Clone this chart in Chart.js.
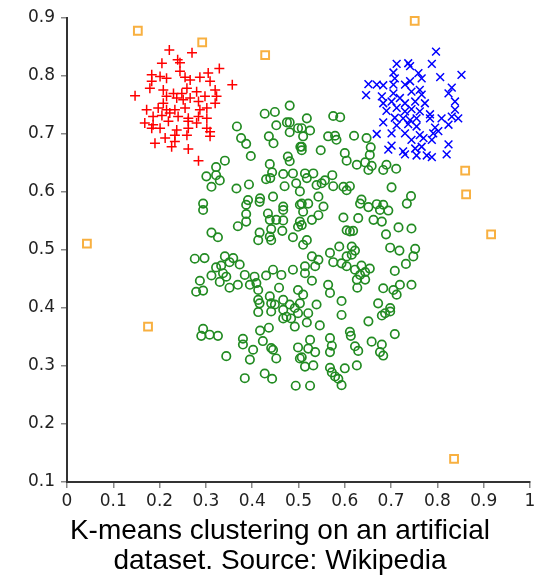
<!DOCTYPE html>
<html>
<head>
<meta charset="utf-8">
<script src="https://cdn.jsdelivr.net/npm/chart.js@4"></script>
<style>
  html, body { margin: 0; padding: 0; background: #fff; }
  #wrap { width: 549px; height: 577px; position: relative; }
  #caption {
    position: absolute; left: 0; top: 515px; width: 549px;
    box-sizing: border-box; padding-left: 11px;
    text-align: center; color: #000;
    font-family: "Liberation Sans", Arial, sans-serif;
    font-size: 28px; line-height: 30px;
  }
</style>
</head>
<body>
<div id="wrap">
  <canvas id="kmeans"></canvas>
  <div id="caption"></div>
</div>
<script>
// cluster 1 (red +)
const redPoints = [
    [0.221,0.845],[0.270,0.840],[0.205,0.822],[0.239,0.828],[0.244,0.823],[0.329,0.813],
    [0.183,0.802],[0.201,0.799],[0.215,0.796],[0.244,0.808],[0.255,0.798],[0.266,0.793],
    [0.287,0.798],[0.305,0.805],[0.309,0.791],[0.357,0.785],[0.183,0.791],[0.179,0.779],
    [0.208,0.776],[0.230,0.770],[0.248,0.770],[0.259,0.779],[0.280,0.773],[0.320,0.776],
    [0.323,0.765],[0.147,0.766],[0.215,0.765],[0.237,0.762],[0.266,0.762],[0.298,0.765],
    [0.208,0.753],[0.251,0.759],[0.284,0.756],[0.320,0.753],[0.172,0.742],[0.197,0.745],
    [0.215,0.742],[0.233,0.742],[0.255,0.745],[0.287,0.742],[0.302,0.745],[0.186,0.730],
    [0.205,0.732],[0.222,0.736],[0.240,0.730],[0.262,0.727],[0.284,0.730],[0.302,0.727],
    [0.168,0.719],[0.186,0.716],[0.219,0.722],[0.262,0.722],[0.280,0.719],[0.302,0.710],
    [0.183,0.710],[0.201,0.710],[0.237,0.707],[0.262,0.710],[0.309,0.704],[0.212,0.693],
    [0.233,0.698],[0.259,0.698],[0.309,0.696],[0.190,0.684],[0.226,0.678],[0.233,0.687],
    [0.262,0.674],[0.284,0.654]
];

// cluster 2 (blue x)
const bluePoints = [
    [0.797,0.842],[0.712,0.821],[0.737,0.822],[0.741,0.817],[0.788,0.821],[0.705,0.806],
    [0.708,0.796],[0.759,0.805],[0.766,0.796],[0.806,0.798],[0.852,0.802],[0.651,0.786],
    [0.669,0.785],[0.683,0.784],[0.705,0.785],[0.730,0.785],[0.741,0.791],[0.831,0.780],
    [0.646,0.767],[0.680,0.765],[0.705,0.770],[0.719,0.762],[0.744,0.773],[0.762,0.776],
    [0.766,0.768],[0.824,0.770],[0.683,0.753],[0.701,0.756],[0.730,0.753],[0.752,0.756],
    [0.773,0.753],[0.838,0.756],[0.690,0.740],[0.712,0.745],[0.730,0.739],[0.744,0.743],
    [0.762,0.739],[0.784,0.734],[0.838,0.742],[0.708,0.728],[0.726,0.727],[0.741,0.724],
    [0.755,0.727],[0.784,0.727],[0.809,0.727],[0.831,0.730],[0.845,0.727],[0.683,0.720],
    [0.712,0.715],[0.737,0.717],[0.755,0.713],[0.795,0.711],[0.824,0.716],[0.802,0.705],
    [0.669,0.700],[0.701,0.701],[0.730,0.701],[0.762,0.698],[0.791,0.701],[0.744,0.690],
    [0.770,0.693],[0.788,0.690],[0.824,0.682],[0.701,0.680],[0.694,0.673],[0.726,0.670],
    [0.752,0.675],[0.766,0.678],[0.730,0.665],[0.755,0.663],[0.777,0.663],[0.788,0.660],
    [0.820,0.665]
];

// cluster 3 (green o)
const greenPoints = [
    [0.481,0.749],[0.427,0.735],[0.449,0.738],[0.475,0.720],[0.452,0.715],[0.481,0.720],
    [0.499,0.710],[0.367,0.713],[0.481,0.703],[0.376,0.693],[0.436,0.696],[0.387,0.683],
    [0.446,0.684],[0.504,0.678],[0.397,0.662],[0.477,0.661],[0.481,0.653],[0.341,0.654],
    [0.322,0.643],[0.438,0.648],[0.301,0.627],[0.322,0.629],[0.330,0.620],[0.443,0.634],
    [0.467,0.631],[0.488,0.632],[0.430,0.622],[0.439,0.624],[0.495,0.615],[0.470,0.610],
    [0.312,0.609],[0.366,0.606],[0.393,0.613],[0.445,0.592],[0.417,0.589],[0.391,0.586],
    [0.387,0.578],[0.416,0.583],[0.294,0.580],[0.294,0.569],[0.467,0.575],[0.467,0.569],
    [0.503,0.578],[0.434,0.563],[0.387,0.562],[0.387,0.549],[0.438,0.552],[0.452,0.552],
    [0.467,0.551],[0.503,0.549],[0.369,0.541],[0.441,0.536],[0.465,0.533],[0.499,0.540],
    [0.312,0.530],[0.326,0.522],[0.416,0.530],[0.438,0.523],[0.488,0.522],[0.413,0.517],
    [0.441,0.517],
    [0.518,0.727],[0.575,0.731],[0.590,0.729],[0.507,0.710],[0.525,0.706],[0.510,0.696],
    [0.564,0.696],[0.579,0.697],[0.582,0.690],[0.620,0.697],[0.647,0.693],[0.507,0.678],
    [0.507,0.672],[0.548,0.672],[0.600,0.667],[0.656,0.677],[0.654,0.664],[0.604,0.654],
    [0.626,0.647],[0.644,0.651],[0.658,0.645],[0.651,0.638],[0.683,0.638],[0.690,0.647],
    [0.711,0.640],[0.514,0.632],[0.532,0.632],[0.518,0.624],[0.573,0.629],[0.557,0.620],
    [0.539,0.612],[0.550,0.615],[0.575,0.610],[0.597,0.609],[0.611,0.610],[0.604,0.603],
    [0.701,0.608],[0.503,0.601],[0.543,0.592],[0.507,0.580],[0.521,0.580],[0.554,0.575],
    [0.636,0.587],[0.633,0.580],[0.651,0.574],[0.669,0.579],[0.683,0.578],[0.676,0.569],
    [0.694,0.568],[0.743,0.593],[0.734,0.580],[0.510,0.566],[0.543,0.560],[0.529,0.552],
    [0.597,0.556],[0.629,0.555],[0.662,0.552],[0.680,0.549],[0.507,0.543],[0.604,0.534],
    [0.611,0.532],[0.618,0.533],[0.689,0.527],[0.716,0.539],[0.744,0.537],[0.518,0.517],
    [0.276,0.485],[0.297,0.486],[0.341,0.489],[0.359,0.486],[0.351,0.479],[0.373,0.475],
    [0.322,0.470],[0.333,0.473],[0.337,0.460],[0.312,0.456],[0.344,0.454],[0.384,0.457],
    [0.405,0.454],[0.430,0.456],[0.445,0.466],[0.463,0.457],[0.488,0.466],[0.287,0.447],
    [0.279,0.428],[0.294,0.430],[0.330,0.445],[0.351,0.435],[0.369,0.440],[0.395,0.440],
    [0.409,0.443],[0.413,0.431],[0.458,0.435],[0.499,0.431],[0.413,0.414],[0.416,0.408],
    [0.438,0.420],[0.441,0.408],[0.449,0.406],[0.467,0.414],[0.481,0.406],[0.413,0.393],
    [0.441,0.394],[0.467,0.397],[0.474,0.385],[0.492,0.400],[0.499,0.391],[0.467,0.382],
    [0.484,0.382],[0.492,0.368],[0.503,0.408],[0.294,0.364],[0.290,0.352],[0.308,0.354],
    [0.326,0.352],[0.417,0.361],[0.436,0.366],[0.423,0.343],[0.380,0.347],[0.380,0.337],
    [0.402,0.328],[0.441,0.331],[0.445,0.328],[0.452,0.313],[0.395,0.311],[0.344,0.317],
    [0.499,0.332],[0.503,0.313],[0.427,0.287],[0.443,0.278],[0.384,0.279],[0.494,0.266],
    [0.510,0.509],[0.588,0.506],[0.615,0.506],[0.622,0.499],[0.568,0.495],[0.604,0.489],
    [0.615,0.492],[0.529,0.489],[0.543,0.483],[0.575,0.479],[0.593,0.477],[0.604,0.472],
    [0.622,0.466],[0.636,0.473],[0.654,0.468],[0.644,0.462],[0.633,0.457],[0.626,0.449],
    [0.644,0.449],[0.698,0.504],[0.718,0.499],[0.752,0.502],[0.748,0.489],[0.732,0.476],
    [0.708,0.464],[0.514,0.472],[0.536,0.472],[0.514,0.460],[0.529,0.447],[0.564,0.440],
    [0.568,0.426],[0.627,0.435],[0.683,0.434],[0.705,0.431],[0.719,0.440],[0.744,0.440],
    [0.712,0.423],[0.510,0.423],[0.593,0.412],[0.539,0.406],[0.672,0.408],[0.698,0.400],
    [0.687,0.391],[0.680,0.387],[0.698,0.394],[0.521,0.391],[0.593,0.388],[0.651,0.377],
    [0.518,0.375],[0.546,0.370],[0.611,0.359],[0.613,0.352],[0.708,0.355],[0.525,0.345],
    [0.568,0.348],[0.658,0.342],[0.680,0.337],[0.622,0.334],[0.629,0.326],[0.521,0.330],
    [0.536,0.324],[0.572,0.335],[0.568,0.324],[0.676,0.324],[0.683,0.318],[0.507,0.315],
    [0.514,0.299],[0.532,0.301],[0.568,0.297],[0.572,0.289],[0.600,0.296],[0.626,0.301],
    [0.579,0.282],[0.586,0.278],[0.525,0.266],[0.593,0.267]
];

// points left unassigned (orange squares)
const outlierPoints = [
    [0.153,0.878],[0.292,0.858],[0.428,0.836],[0.751,0.895],[0.860,0.637],
    [0.862,0.596],[0.916,0.527],[0.043,0.511],[0.175,0.368],[0.836,0.140]
];

const xTicks = [0, 1, 0.1];   // min, max, step
const yTicks = [0.1, 0.9, 0.1];
const captionLines = ['K-means clustering on an artificial', 'dataset. Source: Wikipedia'];

document.getElementById('caption').innerHTML = captionLines.join('<br>');

function toXY(list) {
    return list.map(function (p) { return { x: p[0], y: p[1] }; });
}

// 0, 0.1 ... 1 without trailing zeros
function tickText(value) {
    return String(parseFloat(value.toFixed(1)));
}

const axisColor = '#333';
const tickColor = '#888';

new Chart(document.getElementById('kmeans').getContext('2d'), {
    type: 'scatter',
    data: {
        datasets: [
            {
                data: toXY(redPoints),
                pointStyle: 'cross',
                pointRadius: 5,
                borderColor: '#ff0000',
                backgroundColor: '#ff0000',
                pointBorderWidth: 1.5,
                clip: false
            },
            {
                data: toXY(bluePoints),
                pointStyle: 'crossRot',
                pointRadius: 5.5,
                borderColor: '#0000ff',
                backgroundColor: '#0000ff',
                pointBorderWidth: 1.5,
                clip: false
            },
            {
                data: toXY(greenPoints),
                pointStyle: 'circle',
                pointRadius: 4.2,
                borderColor: '#228b22',
                backgroundColor: 'rgba(0,0,0,0)',
                pointBorderWidth: 1.7,
                clip: false
            },
            {
                data: toXY(outlierPoints),
                pointStyle: 'rect',
                pointRadius: 5.5,
                borderColor: '#f8b040',
                backgroundColor: '#ffffff',
                pointBorderWidth: 2,
                clip: false
            }
        ]
    },
    options: {
        responsive: true,
        maintainAspectRatio: false,
        animation: false,
        layout: {
            padding: { top: 18, right: 19, bottom: 65, left: 0 }
        },
        plugins: {
            legend: { display: false },
            tooltip: { enabled: false }
        },
        scales: {
            x: {
                type: 'linear',
                min: xTicks[0],
                max: xTicks[1],
                afterFit: function (scale) { scale.height = 30; },
                ticks: {
                    stepSize: xTicks[2],
                    color: '#222',
                    padding: 3,
                    maxRotation: 0,
                    callback: tickText,
                    font: { family: '"DejaVu Sans", sans-serif', size: 17 }
                },
                grid: {
                    drawOnChartArea: false,
                    drawTicks: true,
                    tickLength: 6,
                    color: tickColor,
                    lineWidth: 1.5
                },
                border: { display: true, color: axisColor, width: 2 }
            },
            y: {
                type: 'linear',
                min: yTicks[0],
                max: yTicks[1],
                afterFit: function (scale) { scale.width = 67; },
                ticks: {
                    stepSize: yTicks[2],
                    color: '#222',
                    padding: 6,
                    callback: tickText,
                    font: { family: '"DejaVu Sans", sans-serif', size: 17 }
                },
                grid: {
                    drawOnChartArea: false,
                    drawTicks: true,
                    tickLength: 6,
                    color: tickColor,
                    lineWidth: 1.5
                },
                border: { display: true, color: axisColor, width: 2 }
            }
        }
    }
});
</script>
</body>
</html>
